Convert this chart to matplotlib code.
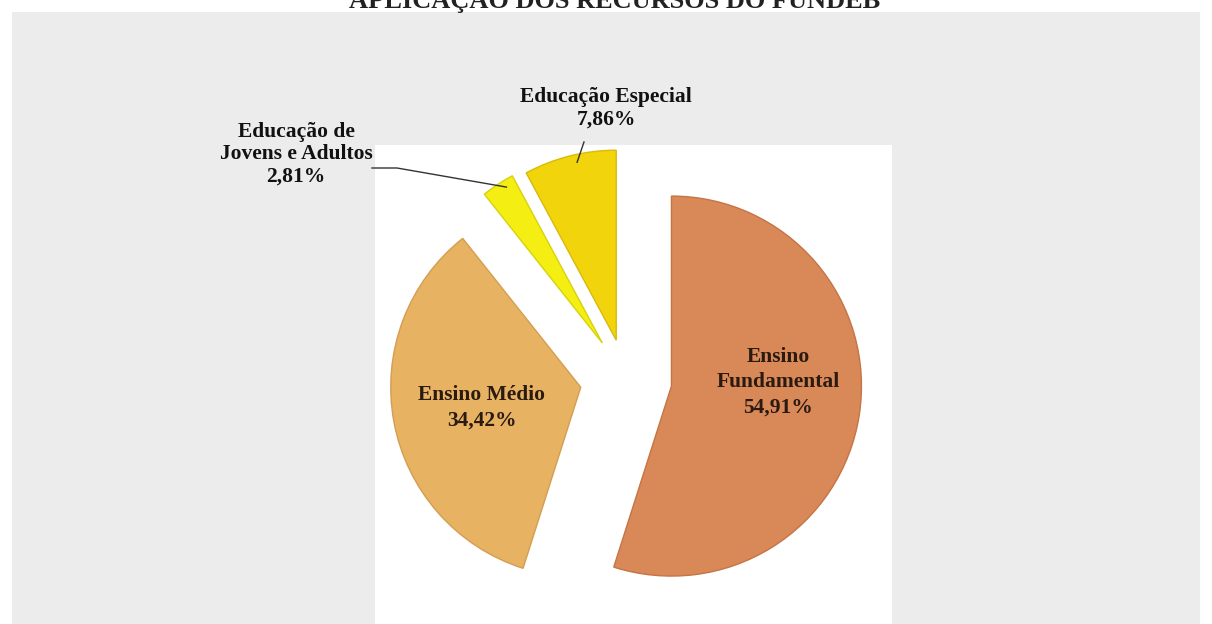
import matplotlib
matplotlib.use('Agg')
import matplotlib.pyplot as plt
from matplotlib.patches import Rectangle
import numpy as np

W, H = 1212, 624

categories = ['Ensino\nFundamental', 'Ensino Médio', 'Educação de\nJovens e Adultos', 'Educação Especial']
shares = [54.91, 34.42, 2.81, 7.86]
share_labels = ['54,91%', '34,42%', '2,81%', '7,86%']
colors = ['#d98958', '#e8b263', '#f4ee12', '#f1d40c']
edges = ['#c57445', '#d49e52', '#d8d20c', '#d8bb0a']

plt.rcParams['font.family'] = ['Liberation Serif', 'DejaVu Serif']

fig = plt.figure(figsize=(W / 100, H / 100), dpi=100)
fig.patch.set_facecolor('white')
ax = fig.add_axes([0, 0, 1, 1])

# pie in pixel units (y up)
cx, cy, r = 626, H - 379, 190
explode = [46, 46, 43, 40]
wedges, _ = ax.pie(shares, colors=colors, startangle=90, counterclock=False,
                   center=(cx, cy), radius=r, explode=explode,
                   wedgeprops=dict(linewidth=1.0))
for w, ec in zip(wedges, edges):
    w.set_edgecolor(ec)
    w.set_zorder(3)

ax.set_xlim(0, W)
ax.set_ylim(0, H)
ax.set_aspect('auto')
ax.axis('off')

# backgrounds
ax.add_patch(Rectangle((12, 0), W - 24, H - 12, facecolor='#ececec', edgecolor='none', zorder=0))
ax.add_patch(Rectangle((375, 0), 517, H - 145, facecolor='white', edgecolor='none', zorder=1))

fs = 15.5


def label(x, y, s, spacing, color='#2a1a10'):
    ax.text(x, y, s, ha='center', va='center', fontsize=fs, fontweight='bold',
            color=color, zorder=5, linespacing=spacing)


ax.text(615, H - 8, 'APLICAÇÃO DOS RECURSOS DO FUNDEB', ha='center', va='baseline',
        fontsize=19, fontweight='bold', color='#222222', zorder=5)

label(778, H - 382, categories[0] + '\n' + share_labels[0], 1.35)
label(482, H - 408, categories[1] + '\n' + share_labels[1], 1.35)
label(296, H - 154, categories[2] + '\n' + share_labels[2], 1.15, '#111111')
label(606, H - 108, categories[3] + '\n' + share_labels[3], 1.15, '#111111')


def arc_point(w, frac):
    ang = np.deg2rad(w.theta1 + frac * (w.theta2 - w.theta1))
    return w.center[0] + w.r * np.cos(ang), w.center[1] + w.r * np.sin(ang)

# leader lines
px, py = arc_point(wedges[2], 0.2)
ax.plot([372, 397, px], [H - 168, H - 168, py - 8], color='#333333', lw=1, zorder=4)
qx, qy = arc_point(wedges[3], 0.42)
ax.plot([584, qx], [H - 142, qy - 8], color='#333333', lw=1, zorder=4)

fig.savefig('out.png', dpi=100)
